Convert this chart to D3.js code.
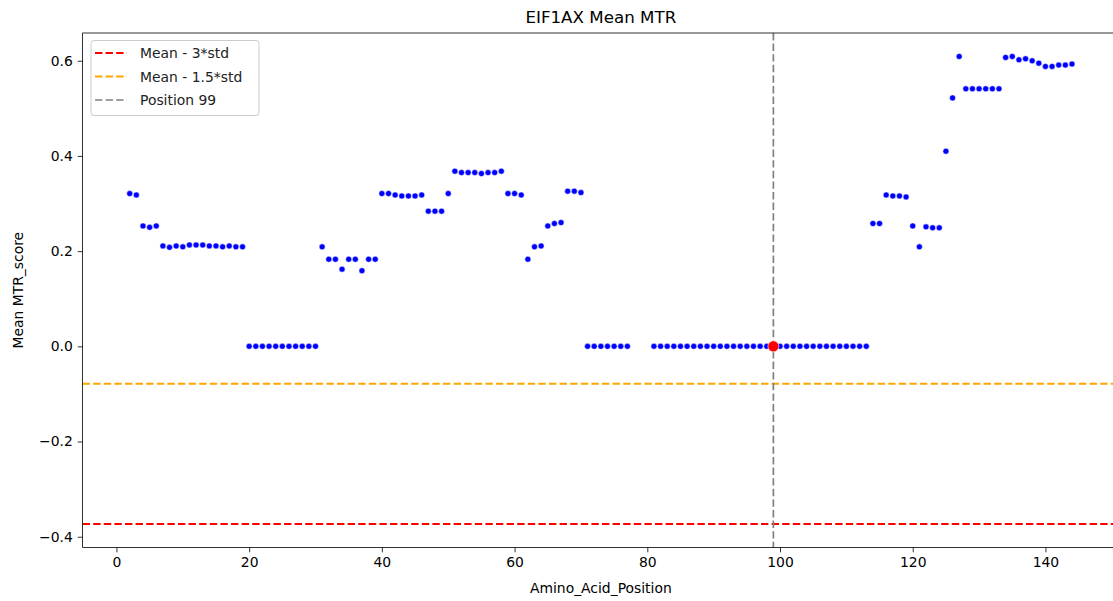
<!DOCTYPE html>
<html><head><meta charset="utf-8">
<script src="https://cdn.jsdelivr.net/npm/d3@7"></script>
<style>body{margin:0;background:#fff;} text{font-family:"DejaVu Sans",sans-serif;}</style>
</head><body><svg id="c" width="1113" height="601"></svg>
<script>
const positions = [2,3,4,5,6,7,8,9,10,11,12,13,14,15,16,17,18,19,
  20,21,22,23,24,25,26,27,28,29,30,
  31,32,33,34,35,36,37,38,39,40,41,42,43,44,45,46,47,48,49,50,
  51,52,53,54,55,56,57,58,59,60,61,62,63,64,65,66,67,68,69,70,
  71,72,73,74,75,76,77,
  81,82,83,84,85,86,87,88,89,90,91,92,93,94,95,96,97,98,99,100,
  101,102,103,104,105,106,107,108,109,110,111,112,113,
  114,115,116,117,118,119,120,121,122,123,124,125,126,127,128,129,130,131,132,133,
  134,135,136,137,138,139,140,141,142,143,144];
const mtr = [0.321,0.318,0.253,0.250,0.253,0.211,0.208,0.211,0.209,0.213,0.213,0.213,0.211,0.211,0.209,0.211,0.209,0.209,
  0,0,0,0,0,0,0,0,0,0,0,
  0.209,0.183,0.183,0.162,0.183,0.183,0.159,0.183,0.183,0.321,0.321,0.318,0.316,0.316,0.316,0.318,0.284,0.284,0.284,0.321,
  0.368,0.365,0.365,0.365,0.363,0.365,0.365,0.368,0.321,0.321,0.318,0.183,0.209,0.211,0.253,0.258,0.260,0.326,0.326,0.323,
  0,0,0,0,0,0,0,
  0,0,0,0,0,0,0,0,0,0,0,0,0,0,0,0,0,0,0,0,
  0,0,0,0,0,0,0,0,0,0,0,0,0,
  0.258,0.258,0.318,0.316,0.316,0.314,0.253,0.209,0.251,0.249,0.249,0.410,0.522,0.609,0.541,0.541,0.541,0.541,0.541,0.541,
  0.607,0.609,0.602,0.604,0.600,0.595,0.588,0.588,0.591,0.591,0.593];
const highlightPos = 99;
const threshold3 = -0.3733;
const threshold15 = -0.0786;
const xTicks = [0,20,40,60,80,100,120,140];
const yTicks = [-0.4,-0.2,0.0,0.2,0.4,0.6];
const legendItems = [
  {label:"Mean - 3*std", color:"red", w:2},
  {label:"Mean - 1.5*std", color:"orange", w:2},
  {label:"Position 99", color:"gray", w:1.7}
];

const svg = d3.select("#c");
const x = d3.scaleLinear().domain([-5.1,151.1]).range([82.6,1119.1]);
const y = d3.scaleLinear().domain([-0.4224,0.6583]).range([547.4,33]);
const L=82.6, R=1119.1, T=33, B=547.4;
const dash = "7.4,3.2";

svg.append("defs").append("clipPath").attr("id","clip")
  .append("rect").attr("x",L).attr("y",T).attr("width",R-L).attr("height",B-T);
const plot = svg.append("g").attr("clip-path","url(#clip)");

plot.append("line").attr("x1",L).attr("x2",R).attr("y1",y(threshold3)).attr("y2",y(threshold3))
  .attr("stroke","red").attr("stroke-width",2).attr("stroke-dasharray",dash);
plot.append("line").attr("x1",L).attr("x2",R).attr("y1",y(threshold15)).attr("y2",y(threshold15))
  .attr("stroke","orange").attr("stroke-width",2).attr("stroke-dasharray",dash);
plot.append("line").attr("x1",x(highlightPos)).attr("x2",x(highlightPos)).attr("y1",T).attr("y2",B)
  .attr("stroke","gray").attr("stroke-width",1.7).attr("stroke-dasharray",dash);

const data = positions.map((p,i)=>({p, v:mtr[i]}));
plot.selectAll("circle.pt").data(data).enter().append("circle").attr("class","pt")
  .attr("cx",d=>x(d.p)).attr("cy",d=>y(d.v)).attr("r",3)
  .attr("fill","blue").attr("stroke","white").attr("stroke-width",0.5);
const hl = data.find(d=>d.p===highlightPos);
plot.append("circle").attr("cx",x(hl.p)).attr("cy",y(hl.v)).attr("r",5.5)
  .attr("fill","red").attr("stroke","white").attr("stroke-width",0.6);

const fmt = v => (v<0?"\u2212":"") + Math.abs(v).toFixed(1);
const xAxis = svg.append("g").attr("transform",`translate(0,${B})`)
  .call(d3.axisBottom(x).tickValues(xTicks).tickSize(4.9).tickPadding(4.9).tickFormat(d3.format("d")));
const yAxis = svg.append("g").attr("transform",`translate(${L},0)`)
  .call(d3.axisLeft(y).tickValues(yTicks).tickSize(4.9).tickPadding(4.9).tickFormat(fmt));
[xAxis,yAxis].forEach(a=>{
  a.select(".domain").remove();
  a.selectAll(".tick line").attr("stroke","#000").attr("stroke-width",0.8);
  a.selectAll(".tick text").attr("font-size","13.9px").attr("fill","#000").attr("font-family","DejaVu Sans");
});
svg.append("rect").attr("x",L).attr("y",T).attr("width",R-L).attr("height",B-T)
  .attr("fill","none").attr("stroke","#000").attr("stroke-width",0.8);

svg.append("text").attr("x",(L+R)/2).attr("y",23).attr("text-anchor","middle")
  .attr("font-size","16.7px").text("EIF1AX Mean MTR");
svg.append("text").attr("x",(L+R)/2).attr("y",593).attr("text-anchor","middle")
  .attr("font-size","13.9px").text("Amino_Acid_Position");
svg.append("text").attr("transform",`translate(23,${(T+B)/2}) rotate(-90)`).attr("text-anchor","middle")
  .attr("font-size","13.9px").text("Mean MTR_score");

const lg = svg.append("g");
lg.append("rect").attr("x",91).attr("y",40.5).attr("width",168).attr("height",75).attr("rx",3)
  .attr("fill","white").attr("fill-opacity",0.8).attr("stroke","#cccccc").attr("stroke-width",1);
legendItems.forEach((it,i)=>{
  const yy = 53 + i*23.5;
  lg.append("line").attr("x1",95).attr("x2",127).attr("y1",yy).attr("y2",yy)
    .attr("stroke",it.color).attr("stroke-width",it.w).attr("stroke-dasharray",dash);
  lg.append("text").attr("x",140).attr("y",yy+5).attr("font-size","13.9px").attr("fill","#222").text(it.label);
});
</script></body></html>
